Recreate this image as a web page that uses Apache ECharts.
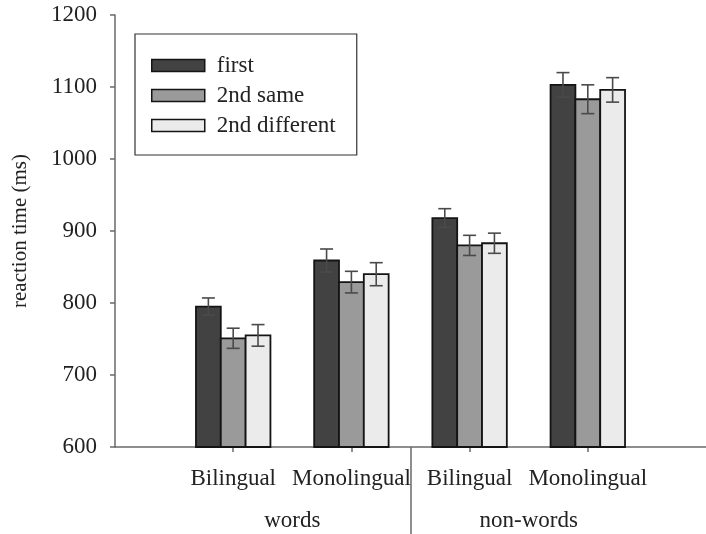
<!DOCTYPE html>
<html>
<head>
<meta charset="utf-8">
<script src="https://cdn.jsdelivr.net/npm/echarts@6/dist/echarts.min.js"></script>
<style>
  html, body { margin: 0; padding: 0; background: #fff; }
  #chart { width: 706px; height: 534px; }
</style>
</head>
<body>
<div id="chart"></div>
<script>
// Conditions along the x axis (positions 1..4) and their grouping
const categories = ['Bilingual', 'Monolingual', 'Bilingual', 'Monolingual'];
const groups = ['words', 'non-words'];
const seriesNames = ['first', '2nd same', '2nd different'];

// Mean reaction times (ms) and error bar half-widths
const firstVals = [795, 859, 918, 1103];
const firstErr  = [12, 16, 13, 17];
const sameVals  = [751, 829, 880, 1083];
const sameErr   = [14, 15, 14, 20];
const diffVals  = [755, 840, 883, 1096];
const diffErr   = [15, 16, 14, 17];

// y axis ticks
const yMin = 600, yMax = 1200, yStep = 100;

const FONT = '"Liberation Serif", "Times New Roman", serif';
const colors = ['#424242', '#9a9a9a', '#ebebeb'];

function barSeries(name, vals, errs, color, k) {
  return {
    type: 'custom',
    name: name,
    data: vals.map((v, i) => [i + 1, v, errs[i]]),
    encode: { x: 0, y: 1 },
    itemStyle: { color: color },
    clip: false,
    renderItem: function (params, api) {
      const x = api.value(0), v = api.value(1), e = api.value(2);
      const top = api.coord([x, v]);
      const base = api.coord([x, yMin]);
      const bw = api.size([1, 0])[0] * 0.21;
      const cx = top[0] + k * bw;
      const hi = api.coord([x, v + e])[1];
      const lo = api.coord([x, v - e])[1];
      const cap = 6.5;
      const errStyle = { stroke: '#4a4a4a', lineWidth: 1.6 };
      return {
        type: 'group',
        children: [
          { type: 'rect', shape: { x: cx - bw / 2, y: top[1], width: bw, height: base[1] - top[1] },
            style: { fill: color, stroke: '#141414', lineWidth: 1.8 } },
          { type: 'line', shape: { x1: cx, y1: hi, x2: cx, y2: lo }, style: errStyle },
          { type: 'line', shape: { x1: cx - cap, y1: hi, x2: cx + cap, y2: hi }, style: errStyle },
          { type: 'line', shape: { x1: cx - cap, y1: lo, x2: cx + cap, y2: lo }, style: errStyle }
        ]
      };
    }
  };
}

const chart = echarts.init(document.getElementById('chart'), null, { renderer: 'canvas' });
chart.setOption({
  backgroundColor: '#ffffff',
  animation: false,
  textStyle: { fontFamily: FONT },
  grid: { left: 115, top: 15, width: 602, height: 432 },
  legend: {
    orient: 'vertical',
    left: 135,
    top: 34,
    data: seriesNames,
    icon: 'rect',
    itemWidth: 53,
    itemHeight: 12,
    itemGap: 7,
    padding: [20, 21, 18, 16],
    borderColor: '#333',
    borderWidth: 1.2,
    itemStyle: { borderColor: '#141414', borderWidth: 1.5 },
    textStyle: { fontFamily: FONT, fontSize: 23, color: '#222', lineHeight: 20, padding: [0, 0, 0, 7] }
  },
  xAxis: [
    {
      type: 'value', min: 0, max: 5,
      splitLine: { show: false },
      axisLine: { lineStyle: { color: '#6a6a6a', width: 1.5 } },
      axisTick: { customValues: [1, 2, 3, 4], length: 5, lineStyle: { color: '#6a6a6a', width: 1.5 } },
      axisLabel: {
        customValues: [1, 2, 3, 4],
        formatter: v => categories[Math.round(v) - 1],
        margin: 20, fontSize: 23, color: '#222', fontFamily: FONT
      }
    },
    {
      type: 'value', min: 0, max: 5, position: 'bottom',
      splitLine: { show: false },
      axisLine: { show: false },
      axisTick: { customValues: [2.5], length: 90, lineStyle: { color: '#6a6a6a', width: 1.5 } },
      axisLabel: {
        customValues: [1.5, 3.5],
        formatter: v => groups[Math.round((v - 1.5) / 2)],
        margin: 62, fontSize: 23, color: '#222', fontFamily: FONT
      }
    }
  ],
  yAxis: {
    type: 'value', min: yMin, max: yMax, interval: yStep,
    name: 'reaction time (ms)',
    nameLocation: 'middle',
    nameGap: 84,
    nameTextStyle: { fontFamily: FONT, fontSize: 21, color: '#222' },
    splitLine: { show: false },
    axisLine: { show: true, lineStyle: { color: '#6a6a6a', width: 1.5 } },
    axisTick: { show: true, length: 5, lineStyle: { color: '#6a6a6a', width: 1.5 } },
    axisLabel: { margin: 18, fontSize: 23, color: '#222', fontFamily: FONT, formatter: v => String(v) }
  },
  series: [
    barSeries(seriesNames[0], firstVals, firstErr, colors[0], -1),
    barSeries(seriesNames[1], sameVals, sameErr, colors[1], 0),
    barSeries(seriesNames[2], diffVals, diffErr, colors[2], 1)
  ]
});
</script>
</body>
</html>
